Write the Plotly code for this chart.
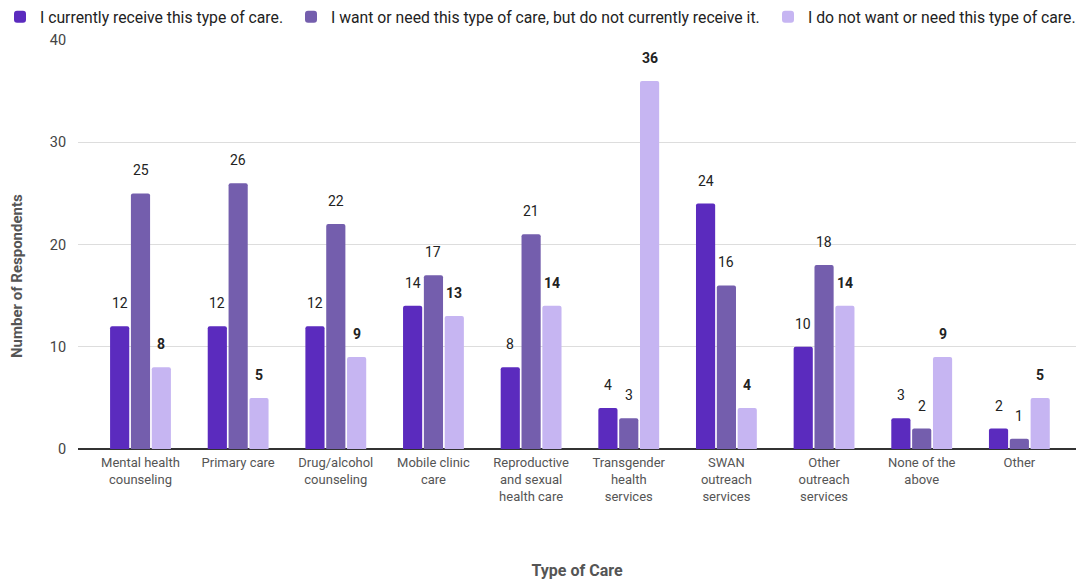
import plotly.graph_objects as go

categories = ["Mental health<br>counseling", "Primary care", "Drug/alcohol<br>counseling",
              "Mobile clinic<br>care", "Reproductive<br>and sexual<br>health care",
              "Transgender<br>health<br>services", "SWAN<br>outreach<br>services",
              "Other<br>outreach<br>services", "None of the<br>above", "Other"]
series_names = ["I currently receive this type of care.",
                "I want or need this type of care, but do not currently receive it.",
                "I do not want or need this type of care."]
receive = [12, 12, 12, 14, 8, 4, 24, 10, 3, 2]
want = [25, 26, 22, 17, 21, 3, 16, 18, 2, 1]
not_want = [8, 5, 9, 13, 14, 36, 4, 14, 9, 5]
y_ticks = [0, 10, 20, 30, 40]

colors = ["#5B2BBE", "#745EAD", "#C6B5F2"]
series = [receive, want, not_want]
bold = [False, False, True]
legend_ids = ["legend", "legend2", "legend3"]
legend_x_px = [0, 291, 768]

fig = go.Figure()
for name, vals, col, lid in zip(series_names, series, colors, legend_ids):
    fig.add_trace(go.Bar(x=categories, y=vals, name=name, marker_color=col,
                         marker_line_width=0, legend=lid, showlegend=True))

annotations = []
slot = 20.8
for k, vals in enumerate(series):
    for i, v in enumerate(vals):
        txt = f"<b>{v}</b>" if bold[k] else str(v)
        annotations.append(dict(x=i, y=v, xref="x", yref="y", text=txt, showarrow=False,
                                xshift=(k - 1) * slot, yshift=23,
                                font=dict(size=14, color="#222222")))

annotations.append(dict(text="<b>Number of Respondents</b>", textangle=-90, showarrow=False,
                        xref="paper", yref="paper", x=(17 - 78) / 998, y=(449 - 276) / 409,
                        xanchor="center", yanchor="middle",
                        font=dict(size=15, color="#555555")))

legend_style = dict(orientation="h", xref="container", yref="container", y=1.0,
                    xanchor="left", yanchor="top", bgcolor="rgba(0,0,0,0)",
                    font=dict(size=15.75, color="#222222"))

fig.update_layout(
    width=1076, height=582,
    showlegend=True,
    margin=dict(l=78, r=0, t=40, b=133, autoexpand=False),
    paper_bgcolor="white", plot_bgcolor="white",
    font=dict(family="Roboto", size=14, color="#444444"),
    barmode="group", bargap=0.36, bargroupgap=0.08, barcornerradius=2,
    legend=dict(x=legend_x_px[0] / 1076, **legend_style),
    legend2=dict(x=legend_x_px[1] / 1076, **legend_style),
    legend3=dict(x=legend_x_px[2] / 1076, **legend_style),
    annotations=annotations,
    xaxis=dict(range=[-0.64, 9.58], tickfont=dict(size=13, color="#555555"),
               ticks="", showgrid=False, showline=False, zeroline=False,
               ticklabelstandoff=4,
               title=dict(text="<b>Type of Care</b>", font=dict(size=16, color="#555555"),
                          standoff=62),
               automargin=False),
    yaxis=dict(range=[0, 40], tickvals=y_ticks, tickfont=dict(size=14.5, color="#444444"),
               showgrid=True, gridcolor="#DDDDDD", gridwidth=1,
               zeroline=True, zerolinecolor="#333333", zerolinewidth=1.5,
               ticks="outside", ticklen=8, tickcolor="rgba(0,0,0,0)",
               automargin=False),
)

fig.write_html("out.html")
